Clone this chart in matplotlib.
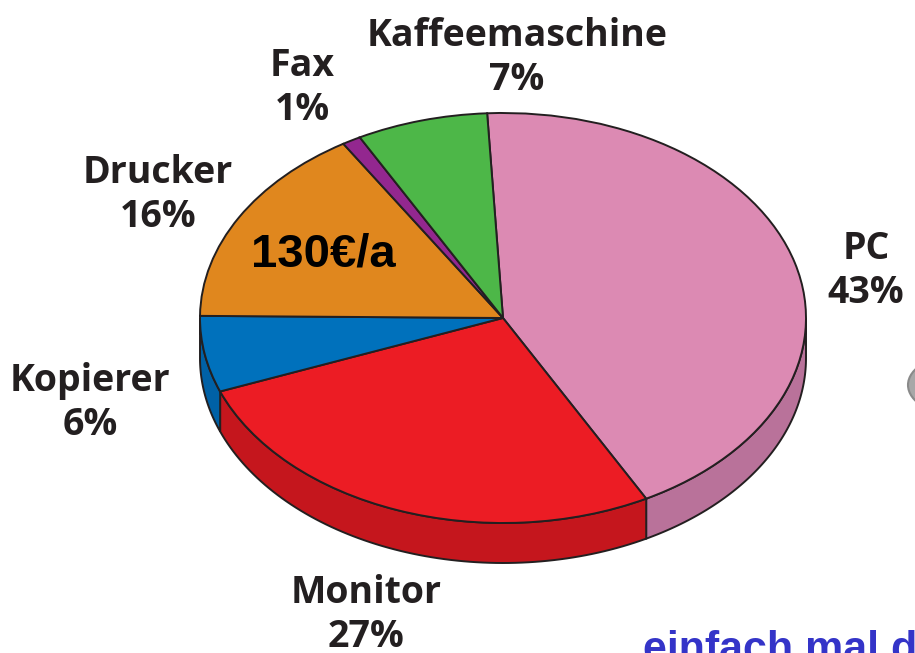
import matplotlib.pyplot as plt
import matplotlib.patches as mpatches
import numpy as np

# Stromkosten im Buero, Anteile in Prozent (im Uhrzeigersinn ab oben)
labels = ["PC", "Monitor", "Kopierer", "Drucker", "Fax", "Kaffeemaschine"]
shares = [43, 27, 6, 16, 1, 7]
top_colors = ["#DC8AB3", "#EC1C24", "#0071BC", "#E0871E", "#93278F", "#4DB748"]
side_colors = ["#B9729A", "#C5161D", "#0061A6", "#C07018", "#7A1F77", "#3F9A3B"]

# Label positions in pixels (center x, baseline y of first line)
label_pos = [(866, 259), (366, 603), (90, 391), (158, 183), (302, 76), (517, 46)]

W, H = 915, 653
cx, cy = 503, 318          # pie apex in pixels
a, b = 303, 205            # ellipse semi axes in pixels
depth = 40 / b             # thickness of the disc in y data units

fig = plt.figure(figsize=(W / 100, H / 100), dpi=100)
ax = fig.add_axes([0, 0, 1, 1])

edge = "#231F20"
wedges, _ = ax.pie(shares, colors=top_colors, startangle=93, counterclock=False,
                   radius=1, center=(0, 0),
                   wedgeprops=dict(edgecolor=edge, linewidth=1.4, zorder=3))

# side of the disc: only the front half (angles 180..360) is visible
for w, c in zip(wedges, side_colors):
    for shift in (-360, 0, 360):
        lo = max(w.theta1, 180 + shift)
        hi = min(w.theta2, 360 + shift)
        if lo >= hi:
            continue
        t = np.radians(np.linspace(lo, hi, 80))
        xs = np.concatenate([np.cos(t), np.cos(t[::-1])])
        ys = np.concatenate([np.sin(t), np.sin(t[::-1]) - depth])
        ax.add_patch(mpatches.Polygon(np.column_stack([xs, ys]), closed=True,
                                      facecolor=c, edgecolor=edge, linewidth=1.4,
                                      zorder=2))

# data units: x in units of a, y in units of b -> unit circle becomes ellipse
ax.set_aspect("auto")
ax.set_xlim(-cx / a, (W - cx) / a)
ax.set_ylim(-(H - cy) / b, cy / b)
ax.axis("off")

# grey object cut off at the right edge
ax.add_patch(mpatches.Ellipse(((962 - cx) / a, (cy - 385) / b), 108 / a, 62 / b,
                              facecolor="#A8A8A8", edgecolor="#8A8A8A",
                              linewidth=1.5, zorder=1))

for name, v, (x, y) in zip(labels, shares, label_pos):
    fig.text(x / W, 1 - y / H, name, ha="center", va="baseline",
             fontsize=27, fontweight="bold", family="Open Sans", color=edge)
    fig.text(x / W, 1 - (y + 44) / H, f"{v}%", ha="center", va="baseline",
             fontsize=27, fontweight="bold", family="Open Sans", color=edge)

fig.text(323 / W, 1 - 267 / H, "130€/a", ha="center", va="baseline",
         fontsize=34, fontweight="bold", family="Liberation Sans", color="black")

fig.text(643 / W, 1 - 661 / H, "einfach mal drüber nachdenken", ha="left",
         va="baseline", fontsize=31, fontweight="bold", family="Liberation Sans",
         color="#3434C8")

fig.savefig("out.png", dpi=100)
